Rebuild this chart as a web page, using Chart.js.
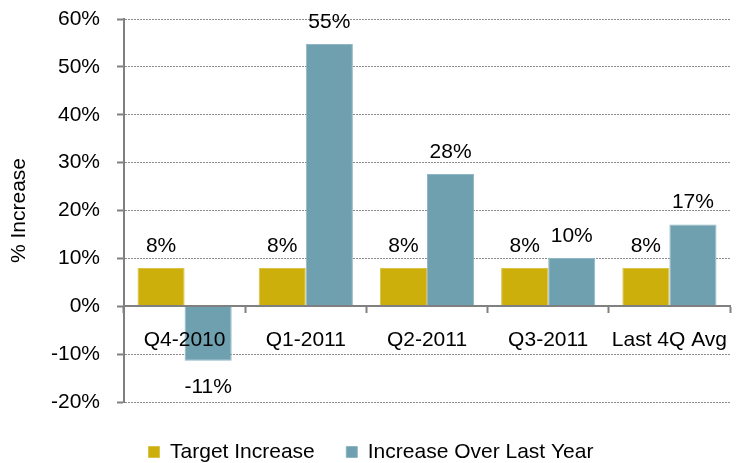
<!DOCTYPE html>
<html>
<head>
<meta charset="utf-8">
<script src="https://cdn.jsdelivr.net/npm/chart.js@4/dist/chart.umd.min.js"></script>
<style>
  html, body { margin: 0; padding: 0; background: #fff; }
  #wrap { width: 742px; height: 463px; }
</style>
</head>
<body>
<div id="wrap"><canvas id="IncreaseCanvas" width="742" height="463"></canvas></div>
<script>
// values
const categories = ['Q4-2010', 'Q1-2011', 'Q2-2011', 'Q3-2011', 'Last 4Q Avg'];
const targetIncrease = [8, 8, 8, 8, 8];
const increaseOverLastYear = [-11.4, 54.8, 27.6, 10.1, 17.1];
const yMin = -20;
const yMax = 60;
const yStep = 10;

const FONT = { family: "'Liberation Sans', Arial, sans-serif", size: 21 };
const AXIS_GREY = '#808080';
const GRID_GREY = '#8c8c8c';

//---------------------- PLUGINS

// value labels above (or below, for negatives) each bar
const barValueLabels = {
    id: 'barValueLabels',
    afterDatasetsDraw(chart) {
        const ctx = chart.ctx;
        ctx.save();
        ctx.font = `${FONT.size}px ${FONT.family}`;
        ctx.fillStyle = '#000';
        ctx.textAlign = 'center';
        ctx.textBaseline = 'middle';
        chart.data.datasets.forEach((ds, di) => {
            const meta = chart.getDatasetMeta(di);
            meta.data.forEach((bar, i) => {
                const v = ds.data[i];
                const text = Math.round(v) + '%';
                const y = v >= 0 ? bar.y - 22 : bar.y + 26;
                ctx.fillText(text, bar.x, y);
            });
        });
        ctx.restore();
    }
};

//---------------------- CHART

new Chart(document.getElementById('IncreaseCanvas').getContext('2d'), {
    type: 'bar',
    data: {
        labels: categories,
        datasets: [
            {
                label: 'Target Increase',
                data: targetIncrease,
                backgroundColor: '#CCAF0B',
                borderColor: '#d9c24a',
                borderWidth: 1
            },
            {
                label: 'Increase Over Last Year',
                data: increaseOverLastYear,
                backgroundColor: '#6FA0AF',
                borderColor: '#8fb6c2',
                borderWidth: 1
            }
        ]
    },
    options: {
        responsive: false,
        animation: false,
        layout: { padding: { left: 0, right: 0, top: 19, bottom: -9.5 } },
        datasets: {
            bar: { categoryPercentage: 0.777, barPercentage: 1.0 }
        },
        scales: {
            x: {
                position: { y: 0 },
                offset: true,
                grid: {
                    display: true,
                    drawOnChartArea: false,
                    drawTicks: true,
                    offset: true,
                    tickLength: 6,
                    tickWidth: 2,
                    tickColor: AXIS_GREY
                },
                border: { display: true, color: AXIS_GREY, width: 2, z: 1 },
                ticks: { color: '#000', font: FONT, padding: 15, maxRotation: 0, autoSkip: false, z: 1 }
            },
            y: {
                min: yMin,
                max: yMax,
                afterFit: scale => {
                    scale.width = 124;
                    // tick padding must not push the plot area down
                    scale.paddingTop = 0;
                    scale.paddingBottom = 0;
                },
                title: {
                    display: true,
                    text: '% Increase',
                    color: '#000',
                    font: FONT,
                    padding: { top: 7, bottom: 0 }
                },
                grid: {
                    color: c => (c.tick && c.tick.value === 0) ? 'rgba(0,0,0,0)' : GRID_GREY,
                    lineWidth: 1,
                    drawTicks: true,
                    tickLength: 7,
                    tickWidth: 2,
                    tickColor: AXIS_GREY,
                    tickBorderDash: []
                },
                border: { display: true, color: AXIS_GREY, width: 2, dash: [2, 1] },
                ticks: {
                    stepSize: yStep,
                    color: '#000',
                    font: FONT,
                    padding: 17,
                    callback: v => v + '%'
                }
            }
        },
        plugins: {
            legend: {
                position: 'bottom',
                title: {
                    display: true,
                    text: ' ',
                    font: { size: 5, lineHeight: 1 },
                    padding: { top: 3, bottom: 0 }
                },
                labels: {
                    color: '#000',
                    font: FONT,
                    boxWidth: 11,
                    boxHeight: 11,
                    padding: 31.5
                }
            },
            tooltip: { enabled: false }
        }
    },
    plugins: [barValueLabels]
});
</script>
</body>
</html>
